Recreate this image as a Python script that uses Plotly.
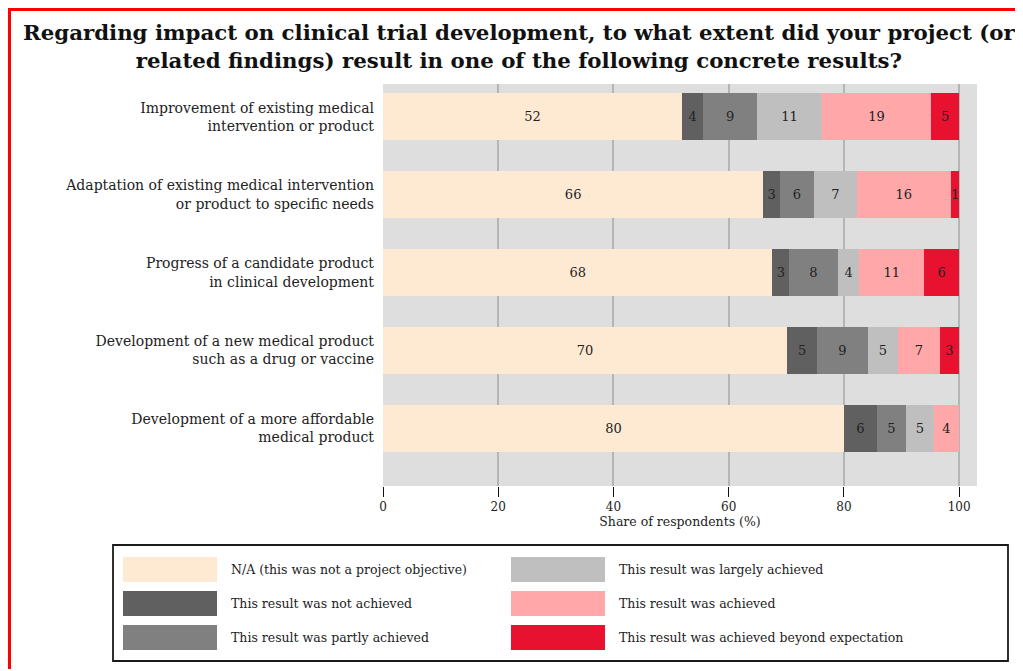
import plotly.graph_objects as go

categories = [
    "Improvement of existing medical<br>intervention or product",
    "Adaptation of existing medical intervention<br>or product to specific needs",
    "Progress of a candidate product<br>in clinical development",
    "Development of a new medical product<br>such as a drug or vaccine",
    "Development of a more affordable<br>medical product",
]

series_names = [
    "N/A (this was not a project objective)",
    "This result was not achieved",
    "This result was partly achieved",
    "This result was largely achieved",
    "This result was achieved",
    "This result was achieved beyond expectation",
]
series_colors = ["#FEEAD3", "#606060", "#808080", "#BFBFBF", "#FFA7A9", "#E81230"]

na_values = [51.9, 66.0, 67.6, 70.1, 80.0]
not_achieved = [3.7, 2.9, 2.9, 5.3, 5.7]
partly_achieved = [9.3, 5.9, 8.4, 8.7, 5.1]
largely_achieved = [11.3, 7.4, 3.8, 5.3, 4.8]
achieved = [18.9, 16.4, 11.2, 7.2, 4.4]
beyond_expectation = [4.9, 1.4, 6.1, 3.4, 0.0]

series_values = [na_values, not_achieved, partly_achieved,
                 largely_achieved, achieved, beyond_expectation]

x_ticks = [0, 20, 40, 60, 80, 100]

FONT = "DejaVu Serif"
OFF = 8  # page body margin
W, H = 1015, 663
L, T, PW, PH = 375, 76, 594, 402
R = W - L - PW
B = H - T - PH


def fx(xr):
    return (xr - OFF - L) / PW


def fy(yr):
    return (T + PH - (yr - OFF)) / PH


fig = go.Figure()
for name, color, vals in zip(series_names, series_colors, series_values):
    fig.add_trace(go.Bar(
        y=categories, x=vals, orientation="h", name=name,
        marker=dict(color=color, line=dict(width=0)),
        text=[f"{v:.0f}" if v > 0 else "" for v in vals],
        textposition="inside", insidetextanchor="middle",
        constraintext="none", textangle=0,
        textfont=dict(family=FONT, size=13, color="#222222"),
        width=0.61, showlegend=False, hoverinfo="skip",
    ))

fig.update_layout(
    barmode="stack",
    width=W, height=H,
    margin=dict(l=L, r=R, t=T, b=B),
    paper_bgcolor="white",
    plot_bgcolor="#DEDEDE",
    font=dict(family=FONT, color="#222222"),
    xaxis=dict(
        range=[0, 103.1], tickvals=x_ticks, ticktext=[str(t) for t in x_ticks],
        showgrid=True, gridcolor="#B5B5B5", gridwidth=2,
        zeroline=False, showline=False,
        ticks="outside", ticklen=10, tickwidth=1, tickcolor="#111111",
        tickfont=dict(family=FONT, size=12, color="#222222"),
        title=dict(text="Share of respondents (%)", standoff=3,
                   font=dict(family=FONT, size=12.5, color="#222222")),
        fixedrange=True,
    ),
    yaxis=dict(
        range=[4.74, -0.42], showgrid=False, zeroline=False, showline=False,
        tickfont=dict(family=FONT, size=14, color="#222222"),
        ticklabelstandoff=8, fixedrange=True,
    ),
)

shapes = []
annotations = []
# red page border (left and top), kept inside the figure
shapes.append(dict(type="line", xref="paper", yref="paper",
                   x0=fx(9.5), x1=fx(9.5), y0=fy(8), y1=fy(669),
                   line=dict(color="#FF0000", width=3)))
shapes.append(dict(type="line", xref="paper", yref="paper",
                   x0=fx(8), x1=fx(1018), y0=fy(9.5), y1=fy(9.5),
                   line=dict(color="#FF0000", width=3)))
# title
annotations.append(dict(
    xref="paper", yref="paper", x=fx(519), y=fy(46),
    xanchor="center", yanchor="middle", showarrow=False,
    text="<b>Regarding impact on clinical trial development, to what extent did your project (or<br>related findings) result in one of the following concrete results?</b>",
    font=dict(family=FONT, size=21.3, color="#111111"),
))
# legend box
shapes.append(dict(type="rect", xref="paper", yref="paper",
                   x0=fx(113), x1=fx(1008), y0=fy(545), y1=fy(661),
                   line=dict(color="#1A1A1A", width=1.8), fillcolor="white"))
col_x = [123, 511]
row_y = [557, 591, 625]
sw_w, sw_h = 94, 25
for i, (name, color) in enumerate(zip(series_names, series_colors)):
    c, r = divmod(i, 3)
    x0, y0 = col_x[c], row_y[r]
    shapes.append(dict(type="rect", xref="paper", yref="paper",
                       x0=fx(x0), x1=fx(x0 + sw_w), y0=fy(y0), y1=fy(y0 + sw_h),
                       line=dict(width=0), fillcolor=color))
    annotations.append(dict(xref="paper", yref="paper", x=fx(x0 + sw_w + 12),
                            y=fy(y0 + sw_h / 2), xanchor="left", yanchor="middle",
                            text=name, showarrow=False,
                            font=dict(family=FONT, size=12.5, color="#222222")))

fig.update_layout(shapes=shapes, annotations=annotations)

fig.write_html("out.html")
